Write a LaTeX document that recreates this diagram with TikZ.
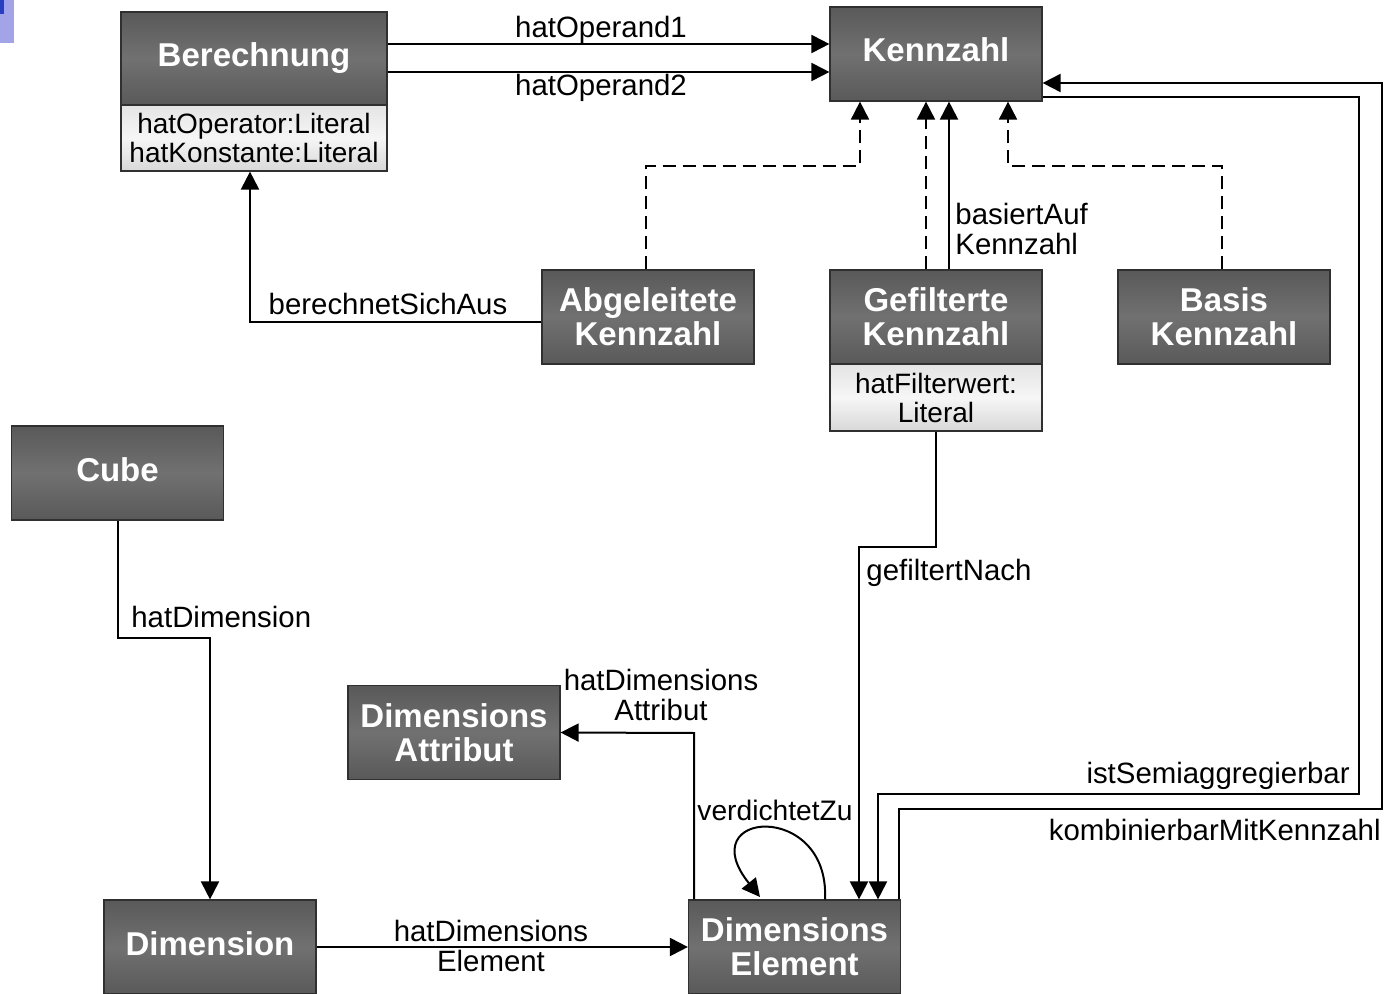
\documentclass[tikz,border=0pt]{standalone}
\usepackage{fontspec}
\setmainfont{Liberation Sans}
\usetikzlibrary{arrows.meta}

\definecolor{boxdark}{HTML}{595959}
\definecolor{boxlight}{HTML}{717171}
\definecolor{boxedge}{HTML}{303030}
\definecolor{attrtop}{HTML}{E4E4E4}
\definecolor{attrmid}{HTML}{F6F6F6}
\definecolor{attrbot}{HTML}{D8D8D8}
\definecolor{tablav}{HTML}{A3A3E8}
\definecolor{tabblue}{HTML}{2A3FC0}

\newcommand{\dgTitle}{\fontsize{16.5}{17}\selectfont\bfseries}
\newcommand{\dgLabel}{\fontsize{14.7}{15}\selectfont}
\newcommand{\dgLabelTight}{\fontsize{14.1}{15}\selectfont}
\newcommand{\dgAttr}{\fontsize{14}{14.5}\selectfont}

\begin{document}
\begin{tikzpicture}[x=0.5pt,y=-0.5pt,
  cls/.style={draw=boxedge, line width=0.6pt, top color=boxdark, bottom color=boxdark,
    middle color=boxlight, text=white, font=\dgTitle, align=center, inner sep=0pt,
    minimum width=106pt, minimum height=47pt},
  onecls/.style={cls, text height=12pt, text depth=4pt},
  attr/.style={draw=boxedge, line width=0.6pt, top color=attrtop, bottom color=attrbot,
    middle color=attrmid, font=\dgAttr, align=center, inner sep=0pt},
  conn/.style={line width=1pt, -{Triangle[length=9pt,width=9pt]}},
  dsh/.style={conn, line width=0.9pt, dash pattern=on 6.5pt off 3.5pt},
  lbl/.style={font=\dgLabel, inner sep=0pt}]

\useasboundingbox (0,0) rectangle (1386,994);
\clip (0,0) rectangle (1386,994);

% small tab in the corner
\fill[tablav] (0,0) rectangle (14,43);
\fill[tabblue] (0,0) rectangle (4,14);

% classes
\node[onecls, minimum width=133pt, minimum height=46.5pt] (ber) at (254,58.5) {Berechnung};
\node[attr, minimum width=133pt, minimum height=33pt] (berattr) at (254,138)
  {hatOperator:Literal\\hatKonstante:Literal};
\node[onecls] (kz) at (936,54) {Kennzahl};
\node[cls] (abg) at (648,317) {Abgeleitete\\Kennzahl};
\node[cls] (gef) at (936,317) {Gefilterte\\Kennzahl};
\node[attr, minimum width=106pt, minimum height=33.5pt] (gefattr) at (936,397.5)
  {hatFilterwert:\\Literal};
\node[cls] (bas) at (1224,317) {Basis\\Kennzahl};
\node[onecls] (cube) at (117.5,473) {Cube};
\node[cls] (da) at (454,732.5) {Dimensions\\Attribut};
\node[onecls] (dim) at (210,947) {Dimension};
\node[cls] (de) at (794.5,947) {Dimensions\\Element};

% Berechnung -> Kennzahl
\draw[conn] (ber.east |- 0,44) -- (kz.west |- 0,44);
\draw[conn] (ber.east |- 0,72) -- (kz.west |- 0,72);
\node[lbl, anchor=base] (lop1) at (601,38) {hatOperand1};
\node[lbl, anchor=base] (lop2) at (601,96) {hatOperand2};

% berechnetSichAus
\draw[conn] (abg.west |- 0,322) -- (250,322) -- (250,0 |- berattr.south);
\node[lbl, anchor=base] (lber) at (388,315) {berechnetSichAus};

% specialisations of Kennzahl
\draw[dsh] (646,0 |- abg.north) -- (646,166) -- (860,166) -- (860,0 |- kz.south);
\draw[dsh] (926,0 |- gef.north) -- (926,0 |- kz.south);
\draw[dsh] (1222,0 |- bas.north) -- (1222,166) -- (1008,166) -- (1008,0 |- kz.south);

% basiertAufKennzahl
\draw[conn] (949,0 |- gef.north) -- (949,0 |- kz.south);
\node[lbl, anchor=west, align=left] (lbas) at (955,229) {basiertAuf\\Kennzahl};

% gefiltertNach
\draw[conn] (gefattr.south) -- (936,547) -- (859,547) -- (859,0 |- de.north);
\node[lbl, anchor=base west] (lgef) at (866,580) {gefiltertNach};

% istSemiaggregierbar
\draw[conn] (kz.east |- 0,97) -- (1359,97) -- (1359,794) -- (878,794) -- (878,0 |- de.north);
\node[lbl, anchor=base east] (lsemi) at (1350,783) {istSemiaggregierbar};

% kombinierbarMitKennzahl
\draw[conn] (899,0 |- de.north) -- (899,809) -- (1382,809) -- (1382,83) -- (kz.east |- 0,83);
\node[lbl, anchor=base east] (lkomb) at (1381,840) {kombinierbarMitKennzahl};

% hatDimension
\draw[conn] (118,0 |- cube.south) -- (118,638) -- (210,638) -- (dim.north);
\node[lbl, anchor=base west] (lhd) at (131,627) {hatDimension};

% hatDimensionsElement
\draw[conn] (dim.east) -- (de.west);
\node[lbl, align=center] (lhde) at (491,946) {hatDimensions\\Element};

% hatDimensionsAttribut
\draw[conn] (694,0 |- de.north) -- (694,733) -- (da.east);
\node[lbl, align=center] (lhda) at (661,695) {hatDimensions\\Attribut};

% verdichtetZu (self loop)
\draw[conn] (825,0 |- de.north) .. controls (830,800) and (690,810) .. (760,897);
\node[lbl, font=\dgLabelTight, anchor=base west] (lver) at (697,820) {verdichtetZu};

\end{tikzpicture}
\end{document}
